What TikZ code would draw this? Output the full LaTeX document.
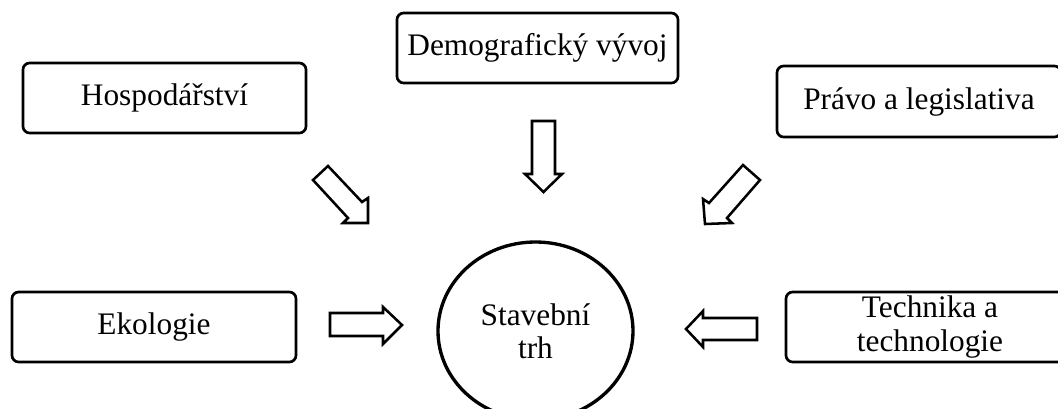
\documentclass[tikz,border=0pt]{standalone}
\usepackage{fontspec}
\setmainfont{Liberation Serif}
\usetikzlibrary{shapes.geometric}
\begin{document}
\begin{tikzpicture}[x=0.75pt,y=-0.75pt,
  factorbox/.style={draw=black, line width=2pt, rounded corners=5pt, inner sep=0pt,
    align=center, font=\fontsize{23.5}{25}\selectfont},
  marketnode/.style={draw=black, line width=2.5pt, ellipse, inner sep=0pt,
    align=center, font=\fontsize{23.5}{25}\selectfont},
  blockarrow/.style={draw=black, line width=1.9pt, fill=white, line join=miter}]
\useasboundingbox (0,0) rectangle (1058,408);

\node[factorbox, minimum width={283*0.75pt}, minimum height={70*0.75pt}] (hosp) at (164.5,98) {Hospodářství};
\node[factorbox, minimum width={281*0.75pt}, minimum height={70*0.75pt}] (demo) at (537.5,48) {Demografický vývoj};
\node[factorbox, minimum width={284*0.75pt}, minimum height={71*0.75pt}] (pravo) at (919,101.5) {Právo a legislativa};
\node[factorbox, minimum width={284*0.75pt}, minimum height={70*0.75pt}] (eko) at (154,327) {Ekologie};
\node[factorbox, minimum width={288*0.75pt}, minimum height={70*0.75pt}] (tech) at (930,327) {Technika a\\technologie};
\node[marketnode, minimum width={195*0.75pt}, minimum height={178*0.75pt}] (trh) at (535.5,331) {Stavební\\trh};

% block arrows
\draw[blockarrow] (313,180) -- (328,166) -- (362,202) -- (368,198) -- (368,223) -- (343,223) -- (348,218) -- cycle;
\draw[blockarrow] (532,121) -- (555,121) -- (555,174) -- (562,174) -- (543.5,192) -- (525,174) -- (532,174) -- cycle;
\draw[blockarrow] (743,165) -- (760,180) -- (727,218) -- (732,223) -- (705,224) -- (703,199) -- (709,203) -- cycle;
\draw[blockarrow] (330,313) -- (383,313) -- (383,307) -- (402,325) -- (383,344) -- (383,336) -- (330,336) -- cycle;
\draw[blockarrow] (757,318) -- (703,318) -- (703,311) -- (686,329) -- (703,347) -- (703,340) -- (757,340) -- cycle;
\end{tikzpicture}
\end{document}
